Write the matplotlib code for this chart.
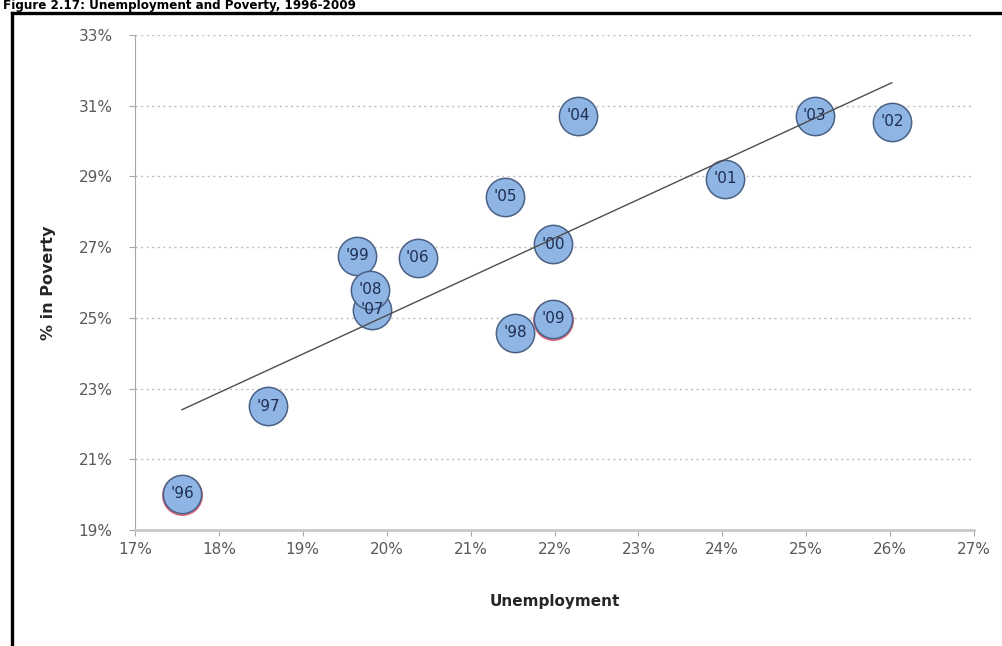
"""
Figure 2.17: Unemployment and Poverty, 1996-2009 (scatter with trend line)
"""

import matplotlib
matplotlib.use("Agg")
import matplotlib.pyplot as plt
from matplotlib.lines import Line2D
from matplotlib.ticker import FuncFormatter
import numpy as np

# ── data ────────────────────────────────────────────────────────────────
years = ["'96", "'97", "'98", "'99", "'00", "'01", "'02",
         "'03", "'04", "'05", "'06", "'07", "'08", "'09"]
unemployment = [17.56, 18.59, 21.53, 19.65, 21.98, 24.03, 26.02,
                25.10, 22.28, 21.41, 20.37, 19.83, 19.80, 21.98]
poverty = [20.02, 22.50, 24.58, 26.75, 27.08, 28.94, 30.55,
           30.71, 30.72, 28.43, 26.70, 25.23, 25.79, 24.97]
highlight = ["'96", "'09"]
x_ticks = [17, 18, 19, 20, 21, 22, 23, 24, 25, 26, 27]
y_ticks = [19, 21, 23, 25, 27, 29, 31, 33]

# ── palette ─────────────────────────────────────────────────────────────
FILL = "#8fb5e4"
EDGE = "#4a6185"
RED = "#e0667a"
LABEL = "#1f2d50"
TICK = "#595959"
GRID = "#bdbdbd"

fig = plt.figure(figsize=(10.02, 6.46), dpi=100)
fig.patch.set_facecolor("white")
ax = fig.add_axes([135 / 1002, 1 - 530 / 646, 839 / 1002, 495 / 646])

x = np.array(unemployment)
y = np.array(poverty)

# red-rimmed markers behind the highlighted years
for yr, xi, yi in zip(years, x, y):
    if yr in highlight:
        ax.scatter(xi, yi - 0.04, s=800, facecolor=FILL, edgecolor=RED,
                   linewidth=1.2, zorder=2)

for xi, yi in zip(x, y):
    ax.scatter(xi, yi, s=760, facecolor=FILL, edgecolor=EDGE,
               linewidth=1.1, zorder=3)

# linear trend
m, b = np.polyfit(x, y, 1)
xs = np.array([x.min(), x.max()])
ax.plot(xs, m * xs + b, color="#4d4d4d", lw=1.0, zorder=4)

for yr, xi, yi in zip(years, x, y):
    ax.text(xi, yi, yr, ha="center", va="center", fontsize=11,
            color=LABEL, zorder=5)

# ── axes styling ────────────────────────────────────────────────────────
ax.set_xlim(17, 27)
ax.set_ylim(19, 33)
ax.set_xticks(x_ticks)
ax.set_yticks(y_ticks)
pct = FuncFormatter(lambda v, _: f"{v:.0f}%")
ax.xaxis.set_major_formatter(pct)
ax.yaxis.set_major_formatter(pct)

ax.grid(axis="y", color=GRID, ls=(0, (1.5, 2.5)), lw=1.0)
ax.set_axisbelow(True)
for s in ("top", "right"):
    ax.spines[s].set_visible(False)
ax.spines["left"].set_color("#a6a6a6")
ax.spines["bottom"].set_color("#c8c8c8")
ax.spines["bottom"].set_linewidth(2.0)
ax.tick_params(colors="#a6a6a6", labelcolor=TICK, labelsize=11,
               length=4, direction="out")
ax.tick_params(axis="x", pad=5)
ax.tick_params(axis="y", pad=12)

ax.set_xlabel("Unemployment", fontsize=11, fontweight="bold",
              color="#262626", labelpad=26)
ax.set_ylabel("% in Poverty", fontsize=11.5, fontweight="bold",
              color="#262626", labelpad=16)

# ── frame and title ─────────────────────────────────────────────────────
fig.add_artist(Line2D([12 / 1002, 12 / 1002], [0, 1 - 13 / 646],
                      color="black", lw=2.4))
fig.add_artist(Line2D([12 / 1002, 1], [1 - 13 / 646, 1 - 13 / 646],
                      color="black", lw=2.4))
fig.text(3 / 1002, 1 - 9 / 646, "Figure 2.17: Unemployment and Poverty, 1996-2009",
         ha="left", va="baseline", fontsize=9.5, fontweight="bold",
         fontstretch="condensed",
         family=["Liberation Sans Narrow", "DejaVu Sans"], color="black")

fig.savefig("out.png", dpi=100, facecolor="white")
